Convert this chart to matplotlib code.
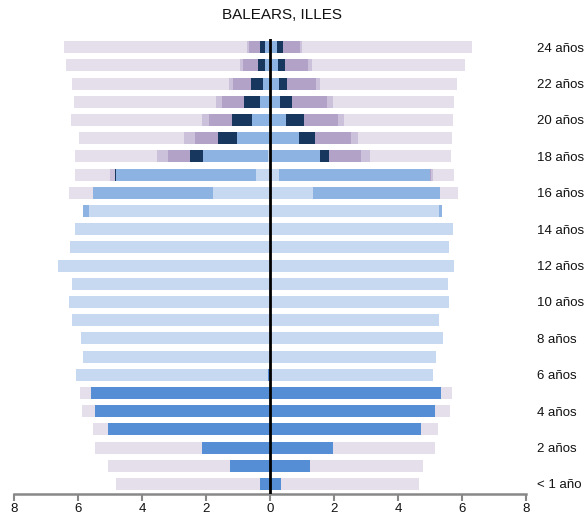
import matplotlib
matplotlib.use("Agg")
import matplotlib.pyplot as plt
import numpy as np

plt.rcParams['font.family'] = ['Liberation Sans', 'DejaVu Sans']

ages = list(range(25))
age_labels = {0: "< 1 año"}
for a in range(2, 25, 2):
    age_labels[a] = f"{a} años"

categories = ["Educación infantil", "Enseñanza obligatoria", "Secundaria postobligatoria",
              "FP superior", "Universitaria", "Otros", "No cursa"]
colors = ["#558ED5", "#C6D9F1", "#8DB3E2", "#17375E", "#B3A2C7", "#CCC1DA", "#E5DFEC"]

# Left side (hombres), ages 0..24
h_infantil = [0.30, 1.25, 2.12, 5.05, 5.47, 5.59, 0.06, 0, 0, 0, 0, 0, 0, 0, 0, 0, 0, 0, 0, 0, 0, 0, 0, 0, 0]
h_oblig    = [0, 0, 0, 0, 0, 0, 6.00, 5.84, 5.91, 6.19, 6.29, 6.18, 6.64, 6.25, 6.09, 5.67, 1.78, 0.44, 0.05, 0, 0, 0, 0, 0, 0]
h_postob   = [0]*15 + [0.18, 3.74, 4.38, 2.04, 1.02, 0.55, 0.32, 0.21, 0.16, 0.16]
h_fpsup    = [0]*17 + [0.03, 0.41, 0.60, 0.63, 0.48, 0.38, 0.23, 0.16]
h_univ     = [0]*18 + [0.69, 0.72, 0.73, 0.71, 0.58, 0.46, 0.33]
h_otros    = [0]*17 + [0.15, 0.34, 0.34, 0.22, 0.18, 0.11, 0.09, 0.08]
h_nocursa  = [4.51, 3.81, 3.34, 0.48, 0.39, 0.36, 0, 0, 0, 0, 0, 0, 0, 0, 0, 0, 0.76, 1.09, 2.56, 3.28, 4.10, 4.44, 4.90, 5.44, 5.70]

# Right side (mujeres), ages 0..24
m_infantil = [0.33, 1.24, 1.98, 4.73, 5.16, 5.33] + [0]*19
m_oblig    = [0, 0, 0, 0, 0, 0, 5.10, 5.18, 5.40, 5.28, 5.58, 5.57, 5.76, 5.58, 5.71, 5.28, 1.35, 0.29, 0, 0, 0, 0, 0, 0, 0]
m_postob   = [0]*15 + [0.08, 3.96, 4.71, 1.56, 0.90, 0.50, 0.31, 0.27, 0.24, 0.21]
m_fpsup    = [0]*18 + [0.29, 0.52, 0.56, 0.38, 0.26, 0.24, 0.21]
m_univ     = [0]*17 + [0.03, 0.99, 1.10, 1.06, 1.10, 0.91, 0.71, 0.52]
m_otros    = [0]*17 + [0.05, 0.28, 0.23, 0.19, 0.18, 0.13, 0.11, 0.06]
m_nocursa  = [4.34, 3.55, 3.18, 0.52, 0.45, 0.35, 0, 0, 0, 0, 0, 0, 0, 0, 0, 0, 0.56, 0.67, 2.55, 2.93, 3.42, 3.79, 4.27, 4.80, 5.31]

left_series = [h_infantil, h_oblig, h_postob, h_fpsup, h_univ, h_otros, h_nocursa]
right_series = [m_infantil, m_oblig, m_postob, m_fpsup, m_univ, m_otros, m_nocursa]

fig = plt.figure(figsize=(5.85, 5.2), dpi=100)
ax = fig.add_axes([14/585, 1 - 494/520, (526-14)/585, (494-39)/520])

y = np.array(ages)
bh = 0.65
cum_l = np.zeros(len(ages))
cum_r = np.zeros(len(ages))
for vals_l, vals_r, c, name in zip(left_series, right_series, colors, categories):
    vl = np.array(vals_l, dtype=float)
    vr = np.array(vals_r, dtype=float)
    ax.barh(y, -vl, left=-cum_l, height=bh, color=c, edgecolor='none', label=name)
    ax.barh(y, vr, left=cum_r, height=bh, color=c, edgecolor='none')
    cum_l += vl
    cum_r += vr

ax.axvline(0, color='black', linewidth=2, zorder=5)

ax.set_xlim(-8, 8)
ax.set_ylim(-0.55, 24.45)
ticks = np.arange(-8, 9, 2)
ax.set_xticks(ticks)
ax.set_xticklabels([str(abs(int(t))) for t in ticks], fontsize=9.5, color='#111111')
ax.tick_params(axis='x', length=5, width=1.5, color='#888888', pad=1.5)

ax.yaxis.tick_right()
ax.set_yticks(list(age_labels.keys()))
ax.set_yticklabels(list(age_labels.values()), fontsize=9.5, color='#111111', ha='left')
ax.tick_params(axis='y', length=0, pad=8)

for s in ['top', 'left', 'right']:
    ax.spines[s].set_visible(False)
ax.spines['bottom'].set_color('#888888')
ax.spines['bottom'].set_linewidth(1.8)

fig.text(282/585, 1 - 15/520, "BALEARS, ILLES", ha='center', va='center', fontsize=11, color='#111111')

fig.savefig("out.png", dpi=100)
